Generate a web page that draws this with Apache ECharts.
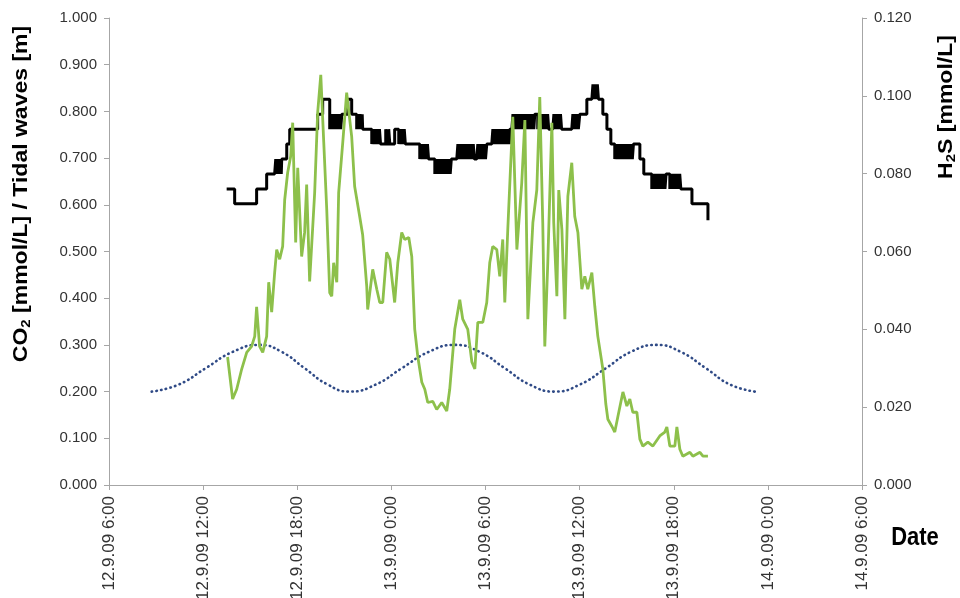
<!DOCTYPE html>
<html>
<head>
<meta charset="utf-8">
<title>CO2 / H2S / Tidal waves</title>
<script src="https://cdn.jsdelivr.net/npm/echarts@6.0.0/dist/echarts.min.js"></script>
<style>
  html, body { margin: 0; padding: 0; background: #fff; }
  #chart { width: 960px; height: 598px; }
</style>
</head>
<body>
<div id="chart"></div>
<script>
// x axis: hours since 12.9.09 6:00, one tick every 6 h
const tickLabels = ['12.9.09 6:00', '12.9.09 12:00', '12.9.09 18:00', '13.9.09 0:00', '13.9.09 6:00',
  '13.9.09 12:00', '13.9.09 18:00', '14.9.09 0:00', '14.9.09 6:00']

// CO2 [mmol/L] (left axis), step signal; co2Upper != null -> signal flickers between the two levels
const co2Hours = [7.50, 8.01, 9.41, 10.05, 10.56, 11.01, 11.33, 11.52, 13.30, 13.62, 14.07, 14.90, 15.22, 15.47, 15.79,
  16.17, 16.75, 17.39, 17.64, 17.70, 17.83, 17.90, 18.21, 18.47, 18.98, 19.81, 20.45, 20.77, 21.85, 22.17, 23.32,
  23.44, 24.08, 24.40, 25.55, 25.68, 27.14, 27.33, 28.10, 28.29, 28.93, 29.50, 30.01, 30.46, 30.78, 31.29, 31.48,
  31.74, 31.99, 32.24, 33.52, 33.84, 34.09, 34.60, 35.56, 35.75, 36.52, 37.16, 38.18]
const co2Levels = [0.634, 0.602, 0.634, 0.666, 0.666, 0.698, 0.730, 0.762, 0.794, 0.826, 0.762, 0.794, 0.826, 0.794, 0.762,
  0.762, 0.730, 0.730, 0.762, 0.730, 0.762, 0.730, 0.762, 0.730, 0.730, 0.698, 0.698, 0.666, 0.698, 0.698, 0.698,
  0.698, 0.730, 0.730, 0.762, 0.762, 0.794, 0.762, 0.762, 0.762, 0.762, 0.762, 0.794, 0.826, 0.826, 0.826, 0.794,
  0.762, 0.730, 0.698, 0.730, 0.698, 0.666, 0.634, 0.666, 0.634, 0.634, 0.602, 0.567]
const co2Upper = [null, null, null, null, 0.698, null, null, null, null, null, 0.794, null, null, null, 0.794,
  null, 0.762, null, null, null, null, null, null, 0.762, null, 0.730, null, 0.698, null, 0.730, null,
  0.730, null, 0.762, null, 0.794, null, 0.794, null, 0.794, null, 0.794, null, null, 0.858, null, null,
  null, null, 0.730, null, null, null, 0.666, null, 0.666, null, null, null]

// H2S [mmol/L] (right axis)
const h2sHours = [7.56, 7.88, 8.14, 8.46, 8.78, 9.09, 9.29, 9.41, 9.60, 9.80, 10.05, 10.18, 10.37, 10.56, 10.69, 10.88,
  11.07, 11.20, 11.39, 11.58, 11.71, 11.90, 12.03, 12.28, 12.47, 12.60, 12.79, 13.11, 13.30, 13.50, 13.69, 13.88,
  14.07, 14.20, 14.32, 14.52, 14.64, 14.90, 15.15, 15.47, 15.66, 15.98, 16.17, 16.43, 16.49, 16.81, 17.07, 17.26,
  17.45, 17.70, 17.90, 18.21, 18.41, 18.66, 18.85, 19.11, 19.30, 19.49, 19.68, 19.94, 20.13, 20.32, 20.64, 20.89,
  21.21, 21.53, 21.72, 22.04, 22.36, 22.55, 22.87, 23.13, 23.32, 23.51, 23.83, 24.08, 24.27, 24.46, 24.72, 24.91,
  25.10, 25.23, 25.42, 25.74, 26.00, 26.31, 26.51, 26.70, 27.02, 27.27, 27.46, 27.65, 27.78, 27.97, 28.23, 28.35,
  28.55, 28.67, 28.87, 29.06, 29.25, 29.50, 29.69, 29.89, 30.14, 30.33, 30.52, 30.78, 30.97, 31.16, 31.48, 31.67,
  31.80, 32.05, 32.24, 32.44, 32.76, 33.01, 33.20, 33.39, 33.65, 33.84, 34.03, 34.35, 34.67, 35.11, 35.43, 35.56,
  35.75, 36.07, 36.20, 36.39, 36.58, 37.03, 37.22, 37.67, 37.86, 38.18]
const h2sValues = [0.0329, 0.0221, 0.0246, 0.0298, 0.0341, 0.0356, 0.0382, 0.0458, 0.0356, 0.0341, 0.0382, 0.0521, 0.0444, 0.0546, 0.0605, 0.0580,
  0.0613, 0.0733, 0.0803, 0.0844, 0.0931, 0.0623, 0.0815, 0.0587, 0.0649, 0.0772, 0.0523, 0.0751, 0.0956, 0.1054, 0.0880, 0.0708,
  0.0494, 0.0485, 0.0571, 0.0521, 0.0751, 0.0880, 0.1008, 0.0895, 0.0767, 0.0690, 0.0643, 0.0510, 0.0451, 0.0554, 0.0503, 0.0469,
  0.0469, 0.0598, 0.0580, 0.0469, 0.0571, 0.0649, 0.0631, 0.0636, 0.0587, 0.0400, 0.0331, 0.0264, 0.0246, 0.0212, 0.0215, 0.0194,
  0.0212, 0.0190, 0.0246, 0.0400, 0.0476, 0.0426, 0.0400, 0.0316, 0.0298, 0.0418, 0.0418, 0.0469, 0.0571, 0.0613, 0.0605, 0.0536,
  0.0631, 0.0469, 0.0656, 0.0946, 0.0605, 0.0776, 0.0938, 0.0426, 0.0674, 0.0758, 0.0997, 0.0674, 0.0356, 0.0571, 0.0931, 0.0674,
  0.0485, 0.0758, 0.0656, 0.0426, 0.0742, 0.0828, 0.0690, 0.0649, 0.0503, 0.0536, 0.0503, 0.0546, 0.0458, 0.0382, 0.0298, 0.0208,
  0.0169, 0.0151, 0.0136, 0.0176, 0.0239, 0.0203, 0.0221, 0.0187, 0.0187, 0.0118, 0.0100, 0.0110, 0.0100, 0.0126, 0.0136, 0.0149,
  0.0100, 0.0100, 0.0149, 0.0092, 0.0074, 0.0084, 0.0074, 0.0084, 0.0074, 0.0074]

// Tidal waves [m] (left axis)
const tideHours = [2.72, 4.44, 6.16, 7.88, 9.60, 11.01, 12.47, 13.94, 15.34, 17.00, 18.66, 20.38, 22.04,
  23.64, 25.23, 26.82, 28.42, 30.01, 31.67, 33.26, 34.92, 36.45, 38.05, 39.60, 41.17]
const tideValues = [0.200, 0.215, 0.250, 0.285, 0.300, 0.285, 0.250, 0.215, 0.200, 0.215, 0.250, 0.285, 0.300,
  0.285, 0.250, 0.215, 0.200, 0.215, 0.250, 0.285, 0.300, 0.285, 0.250, 0.215, 0.200]

const FONT = 'Liberation Sans, Arial, sans-serif'

// step points, flicker ranges drawn as quick toggles between the two levels
function buildCo2() {
  const out = []
  for (let i = 0; i < co2Hours.length; i++) {
    const h = co2Hours[i]
    if (co2Upper[i] == null) {
      out.push([h, co2Levels[i]])
      continue
    }
    const end = co2Hours[i + 1]
    let k = 0
    for (let t = h; t < end - 0.02; t += 0.07) {
      out.push([t, k++ % 2 ? co2Upper[i] : co2Levels[i]])
    }
  }
  return out
}

const pair = (xs, ys) => xs.map((x, i) => [x, ys[i]])

const chart = echarts.init(document.getElementById('chart'))
chart.setOption({
  animation: false,
  backgroundColor: '#fff',
  grid: { left: 109, right: 98, top: 18, bottom: 113, outerBoundsMode: 'none' },
  xAxis: {
    type: 'value',
    min: 0,
    max: 48,
    interval: 6,
    axisLine: { lineStyle: { color: '#a6a6a6', width: 1 } },
    axisTick: { length: 5, lineStyle: { color: '#a6a6a6' } },
    splitLine: { show: false },
    axisLabel: {
      rotate: 90,
      margin: 11,
      fontFamily: FONT,
      fontSize: 17,
      color: '#333',
      formatter: v => tickLabels[Math.round(v / 6)]
    }
  },
  yAxis: [
    {
      type: 'value',
      min: 0,
      max: 1,
      interval: 0.1,
      axisLine: { show: true, lineStyle: { color: '#a6a6a6' } },
      axisTick: { show: true, length: 5, lineStyle: { color: '#a6a6a6' } },
      splitLine: { show: false },
      axisLabel: { margin: 12, fontFamily: FONT, fontSize: 15, color: '#333', formatter: v => v.toFixed(3) }
    },
    {
      type: 'value',
      min: 0,
      max: 0.12,
      interval: 0.02,
      position: 'right',
      axisLine: { show: true, lineStyle: { color: '#a6a6a6' } },
      axisTick: { show: true, length: 5, lineStyle: { color: '#a6a6a6' } },
      splitLine: { show: false },
      axisLabel: { margin: 12, fontFamily: FONT, fontSize: 15, color: '#333', formatter: v => v.toFixed(3) }
    }
  ],
  graphic: [
    {
      type: 'text',
      x: 21,
      y: 194,
      rotation: Math.PI / 2,
      scaleX: 1.15,
      style: {
        text: '{a|CO}{s|2}{a| [mmol/L] / Tidal waves [m]}',
        align: 'center',
        verticalAlign: 'middle',
        fill: '#000',
        rich: {
          a: { fontFamily: FONT, fontSize: 20, fontWeight: 'bold', lineHeight: 24 },
          s: { fontFamily: FONT, fontSize: 13, fontWeight: 'bold', lineHeight: 24, verticalAlign: 'bottom' }
        }
      }
    },
    {
      type: 'text',
      x: 946,
      y: 107,
      rotation: Math.PI / 2,
      scaleX: 1.15,
      style: {
        text: '{a|H}{s|2}{a|S [mmol/L]}',
        align: 'center',
        verticalAlign: 'middle',
        fill: '#000',
        rich: {
          a: { fontFamily: FONT, fontSize: 20, fontWeight: 'bold', lineHeight: 24 },
          s: { fontFamily: FONT, fontSize: 13, fontWeight: 'bold', lineHeight: 24, verticalAlign: 'bottom' }
        }
      }
    },
    {
      type: 'text',
      x: 915,
      y: 538,
      scaleY: 1.2,
      style: {
        text: 'Date',
        align: 'center',
        verticalAlign: 'middle',
        fill: '#000',
        font: 'bold 22px ' + FONT
      }
    }
  ],
  series: [
    {
      name: 'Tidal waves',
      type: 'line',
      yAxisIndex: 0,
      smooth: true,
      symbol: 'none',
      data: pair(tideHours, tideValues),
      lineStyle: { color: '#2f4a86', width: 2.6, type: [0.5, 4.3], cap: 'round' }
    },
    {
      name: 'CO2',
      type: 'line',
      yAxisIndex: 0,
      step: 'end',
      symbol: 'none',
      data: buildCo2(),
      lineStyle: { color: '#000', width: 3 }
    },
    {
      name: 'H2S',
      type: 'line',
      yAxisIndex: 1,
      symbol: 'none',
      data: pair(h2sHours, h2sValues),
      lineStyle: { color: '#8dc04b', width: 2.8 }
    }
  ]
})
</script>
</body>
</html>
